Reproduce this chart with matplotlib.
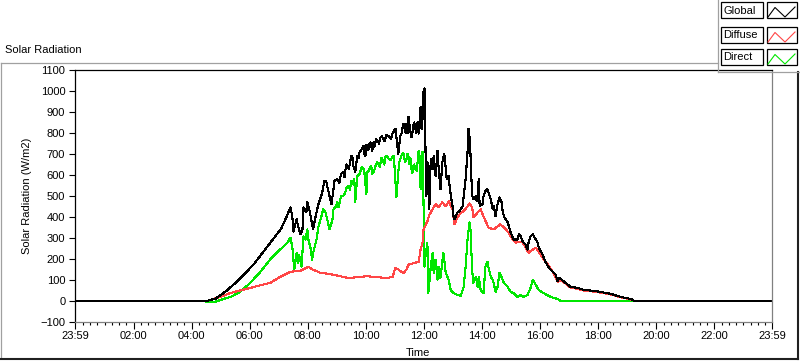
# solar radiation chart, one day of global / diffuse / direct readings

import matplotlib
matplotlib.use("Agg")
import matplotlib.pyplot as plt
from matplotlib.lines import Line2D
from matplotlib.patches import Rectangle

plt.rcParams['font.family'] = ['Liberation Sans', 'DejaVu Sans']

# time in minutes after midnight, values in W/m2
global_min = [0, 270, 274, 290, 310, 330, 350, 370, 390, 410, 425, 435, 444, 448, 450, 457, 460, 465,
              469, 471, 477, 479, 483, 487, 491, 496, 502, 510, 514, 518, 520, 525, 529, 531, 535, 541,
              547, 553, 558, 562, 568, 572, 574, 578, 582, 587, 589, 595, 599, 603, 607, 613, 616, 624,
              630, 636, 645, 649, 655, 661, 665, 667, 671, 676, 680, 684, 688, 692, 696, 698, 702, 707,
              709, 713, 717, 719, 721, 723, 725, 727, 729, 731, 734, 738, 740, 744, 748, 750, 754, 758,
              760, 762, 767, 771, 773, 775, 779, 781, 783, 789, 791, 796, 800, 802, 806, 810, 812, 814,
              816, 818, 820, 822, 827, 829, 831, 833, 835, 841, 843, 847, 851, 853, 858, 862, 864, 868,
              870, 872, 876, 880, 882, 885, 893, 899, 905, 913, 916, 920, 924, 926, 930, 934, 936, 940,
              945, 947, 955, 957, 965, 971, 978, 986, 992, 996, 998, 1002, 1013, 1023, 1038, 1050, 1071,
              1085, 1106, 1127, 1147, 1155, 1439]
global_val = [0, 0, 2, 12, 45, 85, 130, 180, 240, 300, 345, 395, 446, 403, 331, 389, 355, 317,
              341, 446, 422, 470, 437, 389, 341, 403, 461, 518, 571, 571, 547, 499, 461, 499, 571, 581,
              590, 614, 629, 643, 670, 686, 643, 614, 691, 710, 715, 739, 691, 739, 749, 715, 758, 763,
              778, 773, 787, 782, 797, 821, 739, 701, 787, 830, 821, 845, 878, 806, 797, 835, 821, 854,
              797, 926, 869, 998, 1013, 739, 500, 662, 614, 437, 677, 629, 691, 595, 715, 643, 533, 662,
              686, 701, 581, 595, 547, 509, 451, 403, 389, 422, 422, 437, 451, 499, 581, 710, 821, 780,
              700, 581, 499, 485, 499, 475, 494, 581, 451, 461, 499, 523, 533, 518, 485, 437, 451, 403,
              437, 461, 494, 475, 437, 403, 374, 326, 293, 293, 317, 307, 283, 278, 269, 245, 278, 307,
              317, 307, 278, 254, 221, 187, 158, 139, 125, 95, 110, 106, 86, 67, 62, 53, 48,
              43, 34, 19, 10, 0, 0]
# extra wiggles of the global trace through the morning
global_min2 = [545, 550, 556, 560, 565, 570, 585, 592, 597, 601, 605, 610, 618, 621, 627, 633, 639, 642,
               652, 658, 674, 678, 682, 686, 690, 694, 700, 704, 711, 715]
global_val2 = [560, 610, 590, 650, 630, 690, 680, 725, 700, 745, 720, 755, 735, 770, 750, 785, 760, 790,
               770, 810, 800, 845, 800, 800, 840, 780, 850, 800, 860, 820]

diffuse_min = [0, 272, 278, 300, 320, 340, 361, 382, 402, 423, 444, 465, 481, 490, 506, 520, 533, 547,
               562, 576, 589, 603, 616, 630, 645, 655, 661, 667, 673, 678, 684, 688, 702, 709, 713, 717,
               719, 723, 727, 731, 734, 740, 744, 750, 758, 765, 771, 779, 783, 789, 796, 802, 810, 814,
               816, 820, 822, 831, 837, 843, 853, 864, 872, 878, 885, 895, 903, 909, 916, 924, 930, 936,
               945, 951, 957, 965, 976, 986, 996, 1002, 1013, 1023, 1038, 1050, 1071, 1085, 1106, 1127,
               1147, 1155, 1439]
diffuse_val = [0, 0, 5, 20, 38, 50, 62, 75, 86, 115, 139, 144, 163, 150, 134, 130, 125, 118,
               110, 112, 115, 118, 115, 112, 110, 115, 158, 150, 140, 134, 150, 173, 182, 187, 245, 278,
               341, 360, 380, 410, 422, 446, 461, 446, 470, 451, 475, 437, 365, 398, 422, 427, 451, 465,
               461, 440, 398, 422, 437, 403, 350, 341, 355, 365, 350, 326, 293, 278, 283, 278, 254, 230,
               245, 254, 235, 206, 173, 139, 92, 100, 82, 63, 58, 50, 45, 40, 31, 17,
               8, 0, 0]

direct_min = [0, 266, 272, 290, 299, 320, 340, 361, 382, 402, 423, 438, 444, 448, 452, 457, 459, 462,
              467, 471, 475, 479, 481, 485, 489, 491, 498, 502, 508, 512, 516, 520, 525, 531, 533, 537,
              541, 543, 547, 551, 558, 564, 572, 576, 578, 582, 589, 595, 601, 603, 609, 613, 620, 626,
              634, 640, 647, 655, 659, 663, 667, 673, 678, 684, 688, 694, 698, 702, 707, 709, 713, 717,
              719, 721, 723, 727, 729, 734, 738, 740, 744, 748, 750, 754, 760, 765, 771, 775, 781, 789,
              796, 802, 806, 810, 814, 816, 818, 820, 822, 827, 831, 833, 837, 843, 847, 851, 853, 858,
              862, 864, 868, 872, 876, 880, 885, 893, 899, 905, 913, 920, 926, 934, 940, 945, 951, 957,
              967, 982, 996, 1002, 1439]
direct_val = [0, 0, -5, -3, 5, 19, 43, 86, 139, 197, 245, 278, 302, 259, 149, 230, 182, 221,
              163, 307, 293, 341, 293, 259, 197, 230, 293, 355, 403, 437, 427, 389, 341, 389, 437, 446,
              470, 446, 485, 499, 523, 547, 557, 581, 470, 595, 619, 629, 509, 614, 638, 605, 643, 653,
              677, 686, 677, 686, 643, 494, 614, 691, 701, 677, 686, 629, 643, 629, 667, 715, 533, 710,
              470, 163, 211, 278, 38, 163, 230, 134, 197, 101, 163, 110, 230, 134, 101, 53, 38, 29,
              24, 67, 163, 293, 374, 341, 230, 134, 86, 115, 67, 115, 53, 38, 163, 187, 163, 115,
              101, 86, 43, 67, 134, 115, 86, 67, 43, 38, 19, 29, 19, 29, 62, 101, 77, 53,
              38, 19, 10, 0, 0]
direct_min2 = [545, 549, 555, 560, 567, 570, 586, 592, 597, 606, 611, 617, 623, 629, 632, 638, 643, 651,
               657, 669, 676, 681, 686, 690, 692, 696, 700, 705, 711, 715]
direct_val2 = [460, 500, 505, 540, 530, 570, 600, 640, 610, 620, 645, 620, 660, 640, 680, 650, 690, 670,
               690, 660, 705, 660, 700, 650, 680, 610, 650, 620, 690, 600]

tick_pos = [-1, 120, 240, 360, 480, 600, 720, 840, 960, 1080, 1200, 1320, 1439]
tick_lab = ['23:59', '02:00', '04:00', '06:00', '08:00', '10:00', '12:00', '14:00', '16:00',
            '18:00', '20:00', '22:00', '23:59']
series_names = ['Global', 'Diffuse', 'Direct']
series_cols = ['#000000', '#ff4646', '#00e600']

gl = sorted(zip(global_min + global_min2, global_val + global_val2))
dr = sorted(zip(direct_min + direct_min2, direct_val + direct_val2))

W, H = 800, 361
def fx(x):
    return x / W
def fy(y):
    return 1 - y / H

fig = plt.figure(figsize=(8, 3.61), dpi=100)
ax = fig.add_axes([fx(75), fy(322), (772 - 75) / W, (322 - 70) / H])

ax.plot([p[0] for p in dr], [p[1] for p in dr], color=series_cols[2], lw=0.8, antialiased=False)
ax.plot(diffuse_min, diffuse_val, color=series_cols[1], lw=0.8, antialiased=False)
ax.plot([p[0] for p in gl], [p[1] for p in gl], color=series_cols[0], lw=0.8, antialiased=False)

ax.set_xlim(-1, 1439)
ax.set_ylim(-100, 1100)
ax.set_xticks(tick_pos)
ax.set_xticklabels(tick_lab)
ax.set_xticks([m for m in range(15, 1440, 15) if m % 120 != 0], minor=True)
ax.set_yticks(range(-100, 1101, 100))
ax.tick_params(axis='x', which='major', length=5, width=0.8, pad=1.5, labelsize=8)
ax.tick_params(axis='x', which='minor', length=2.5, width=0.8)
ax.tick_params(axis='y', which='major', length=4.5, width=0.8, pad=2.5, labelsize=8)

ax.spines['left'].set_color('black')
ax.spines['top'].set_color('black')
ax.spines['bottom'].set_color('#808080')
ax.spines['right'].set_color('#808080')
for s in ax.spines.values():
    s.set_linewidth(0.9)

ax.set_ylabel('Solar Radiation (W/m2)', fontsize=8, labelpad=6)
fig.text(fx(418), fy(353), 'Time', fontsize=8, ha='center', va='center')
fig.text(fx(5), fy(50), 'Solar Radiation', fontsize=8, ha='left', va='center')

# outer panel frame
fig.add_artist(Line2D([fx(1), fx(718)], [fy(63), fy(63)], color='#a0a0a0', lw=0.9))
fig.add_artist(Line2D([fx(1), fx(1)], [fy(63), fy(358)], color='#a0a0a0', lw=0.9))
fig.add_artist(Line2D([fx(0), fx(798)], [fy(359), fy(359)], color='#202020', lw=1.5))
fig.add_artist(Line2D([fx(798), fx(798)], [fy(72), fy(359)], color='#202020', lw=1.5))

# legend block in the top right corner
fig.add_artist(Line2D([fx(718), fx(718)], [fy(0), fy(72)], color='#a0a0a0', lw=0.9))
fig.add_artist(Line2D([fx(718), fx(800)], [fy(72), fy(72)], color='#a0a0a0', lw=0.9))
row_tops = [2, 27, 49]
for name, col, top in zip(series_names, series_cols, row_tops):
    fig.add_artist(Rectangle((fx(721), fy(top + 16)), 42 / W, 16 / H, transform=fig.transFigure,
                             facecolor='white', edgecolor='black', lw=0.9))
    fig.add_artist(Rectangle((fx(767), fy(top + 16)), 30 / W, 16 / H, transform=fig.transFigure,
                             facecolor='white', edgecolor='black', lw=0.9))
    fig.text(fx(723), fy(top + 8.5), name, fontsize=8, ha='left', va='center')
    fig.add_artist(Line2D([fx(768), fx(775), fx(785), fx(795)],
                          [fy(top + 15), fy(top + 5.5), fy(top + 15), fy(top + 5)],
                          color=col, lw=0.8))

fig.savefig('out.png', dpi=100)
